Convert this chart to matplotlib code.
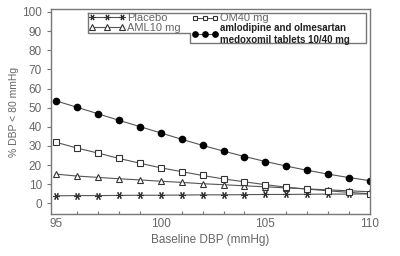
import matplotlib
matplotlib.use("Agg")
import matplotlib.pyplot as plt
from matplotlib.lines import Line2D
from matplotlib.ticker import MultipleLocator

baseline_dbp = [95, 96, 97, 98, 99, 100, 101, 102, 103, 104, 105, 106, 107, 108, 109, 110]
placebo = [4.0, 4.1, 4.1, 4.2, 4.3, 4.3, 4.4, 4.5, 4.5, 4.6, 4.7, 4.7, 4.8, 4.9, 4.9, 5.0]
aml10 = [15.3, 14.3, 13.6, 12.9, 12.3, 11.6, 11.0, 10.3, 9.8, 9.2, 8.7, 8.1, 7.6, 7.1, 6.6, 6.1]
om40 = [31.9, 28.9, 26.3, 23.5, 21.0, 18.6, 16.6, 14.6, 12.8, 11.3, 9.8, 8.5, 7.5, 6.6, 5.8, 5.0]
combo = [53.5, 50.2, 46.8, 43.4, 40.1, 36.8, 33.5, 30.3, 27.3, 24.5, 21.9, 19.5, 17.3, 15.3, 13.5, 11.9]

labels = ["Placebo", "AML10 mg", "OM40 mg", "amlodipine and olmesartan\nmedoxomil tablets 10/40 mg"]

LINE = "#555555"
TEXT = "#666666"
SPINE = "#777777"

plt.rcParams["font.family"] = ["Liberation Sans", "DejaVu Sans"]

fig = plt.figure(figsize=(4, 2.56), dpi=100)
ax = fig.add_axes([51 / 400, 1 - 214 / 256, 319 / 400, 205 / 256])

common = dict(color=LINE, linewidth=0.8, markeredgewidth=0.8, markeredgecolor="#333333")
l_pl, = ax.plot(baseline_dbp, placebo, marker=(6, 2, 90), markersize=5, **common)
l_aml, = ax.plot(baseline_dbp, aml10, marker="^", markersize=4.5, markerfacecolor="white", **common)
l_om, = ax.plot(baseline_dbp, om40, marker="s", markersize=4, markerfacecolor="white", **common)
l_cb, = ax.plot(baseline_dbp, combo, marker="o", markersize=4.5, markerfacecolor="black",
                color=LINE, linewidth=0.8, markeredgecolor="black")

ax.set_xlim(94.75, 110)
ax.set_ylim(-5.5, 101.5)
ax.set_xticks([95, 100, 105, 110])
ax.xaxis.set_minor_locator(MultipleLocator(1))
ax.set_yticks(range(0, 101, 10))
ax.tick_params(axis="both", which="major", labelsize=8.5, labelcolor=TEXT, color=SPINE,
               length=3, width=0.8, direction="out")
ax.tick_params(axis="x", which="minor", direction="in", length=2, color=SPINE, width=0.8)
ax.tick_params(axis="x", which="major", length=0, pad=3)
for s in ax.spines.values():
    s.set_color(SPINE)
    s.set_linewidth(1.0)

ax.set_xlabel("Baseline DBP (mmHg)", fontsize=8.5, color=TEXT, labelpad=3)
ax.set_ylabel("% DBP < 80 mmHg", fontsize=7.5, color=TEXT)
ax.yaxis.set_label_coords(-0.1, 0.5)


def to_ax(px, py):
    return ((px - 51) / 319, (214 - py) / 205)


leg1 = ax.legend([l_pl, l_aml], labels[:2], loc="upper left", bbox_to_anchor=to_ax(88, 12),
                 frameon=False, fontsize=8, handlelength=3.3, handletextpad=0.1,
                 borderpad=0.1, labelspacing=0.0, numpoints=3, borderaxespad=0, markerscale=0.85)
for t in leg1.get_texts():
    t.set_color(TEXT)
ax.add_artist(leg1)

leg2 = ax.legend([l_om, l_cb], labels[2:], loc="upper left", bbox_to_anchor=to_ax(191, 12),
                 frameon=False, fontsize=7, handlelength=2.7, handletextpad=0.2,
                 borderpad=0.1, labelspacing=0.0, numpoints=3, borderaxespad=0, markerscale=0.85)
leg2.get_texts()[0].set_color(TEXT)
leg2.get_texts()[0].set_fontsize(8)
leg2.get_texts()[1].set_fontweight("bold")
leg2.get_texts()[1].set_color("#222222")

outline = [(88, 13), (366, 13), (366, 43), (190, 43), (190, 33), (88, 33), (88, 13)]
xs, ys = zip(*[to_ax(px, py) for px, py in outline])
ax.add_line(Line2D(xs, ys, transform=ax.transAxes, color=SPINE, linewidth=1.0, clip_on=False))

fig.savefig("out.png", dpi=100)
